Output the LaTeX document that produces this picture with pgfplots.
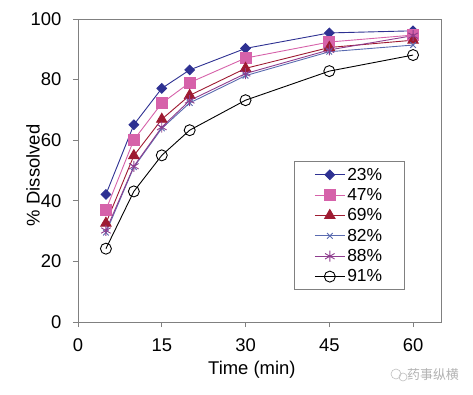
\documentclass[border=0pt]{standalone}
\usepackage{pgfplots}
\pgfplotsset{compat=1.18}
\usepackage{fontspec}
\setmainfont{Liberation Sans}
\newfontfamily\cjk{Noto Sans CJK SC}
\definecolor{cA}{RGB}{46,49,146}
\definecolor{cB}{RGB}{214,98,170}
\definecolor{cC}{RGB}{158,27,50}
\definecolor{cD}{RGB}{90,107,176}
\definecolor{cE}{RGB}{142,61,142}
\definecolor{axgray}{RGB}{128,128,128}
\begin{document}
\begin{tikzpicture}
\useasboundingbox (0,0) rectangle (473bp,395bp);
\begin{axis}[
  at={(78bp,73bp)}, anchor=south west,
  width=363bp, height=303bp, scale only axis,
  xmin=0, xmax=65, ymin=0, ymax=100,
  xtick={0,15,30,45,60}, ytick={0,20,40,60,80,100},
  tick align=outside, major tick length=5bp,
  xtick pos=left, ytick pos=left,
  axis line style={axgray, line width=0.8bp},
  every tick/.style={axgray, line width=0.8bp},
  font=\fontsize{18.5}{22}\selectfont,
  tick label style={font=\fontsize{18.5}{22}\selectfont},
  yticklabel style={xshift=-8bp},
  xticklabel style={yshift=-8bp},
  /pgf/number format/assume math mode=true,
  ylabel={\% Dissolved}, xlabel={Time (min)},
  ylabel style={at={(axis description cs:-0.124,0.484)}, anchor=center},
  xlabel style={at={(axis description cs:0.479,-0.159)}, anchor=center},
  legend style={at={(axis description cs:0.595,0.53)}, anchor=north west,
    draw=axgray, line width=0.8bp, font=\fontsize{17.5}{20}\selectfont,
    row sep=4.3bp, inner xsep=20bp, inner ysep=5bp,
    nodes={inner ysep=1.2bp}},
  legend cell align=left,
  legend image code/.code={\draw[mark repeat=2,mark phase=2] plot coordinates {(0bp,0bp) (15bp,0bp) (30bp,0bp)};},
  every axis plot/.append style={line width=0.9bp},
]
\addplot[cA, mark=square*, mark size=3.4bp, mark options={rotate=45, fill=cA}] coordinates {(5,42.1) (10,65.1) (15,77.1) (20,83.2) (30,90.3) (45,95.4) (60,96.1)};
\addlegendentry{23\%}
\addplot[cB, mark=square*, mark size=5.5bp, mark options={fill=cB}] coordinates {(5,37.0) (10,60.1) (15,72.2) (20,79.0) (30,87.1) (45,92.4) (60,94.7)};
\addlegendentry{47\%}
\addplot[cC, mark=triangle*, mark size=6bp, mark options={fill=cC}] coordinates {(5,32.6) (10,54.9) (15,66.9) (20,74.8) (30,83.7) (45,90.6) (60,93.0)};
\addlegendentry{69\%}
\addplot[cD, mark=x, mark size=4bp] coordinates {(5,29.5) (10,51.1) (15,63.9) (20,72.3) (30,81.3) (45,89.2) (60,91.4)};
\addlegendentry{82\%}
\addplot[cE, mark=asterisk, mark size=5.5bp] coordinates {(5,30.2) (10,51.4) (15,64.3) (20,73.1) (30,82.0) (45,89.8) (60,94.5)};
\addlegendentry{88\%}
\addplot[black, mark=o, mark size=5.5bp, mark options={fill=white}] coordinates {(5,24.2) (10,43.1) (15,55.0) (20,63.3) (30,73.2) (45,82.8) (60,88.1)};
\addlegendentry{91\%}
\end{axis}
\node[gray!60, anchor=center] at (433bp,20bp) {\cjk\fontsize{13}{15}\selectfont 药事纵横};
\draw[gray!50, line width=0.6bp] (396bp,21bp) circle (5bp);
\draw[gray!50, line width=0.6bp] (403bp,18bp) circle (4bp);
\end{tikzpicture}
\end{document}
